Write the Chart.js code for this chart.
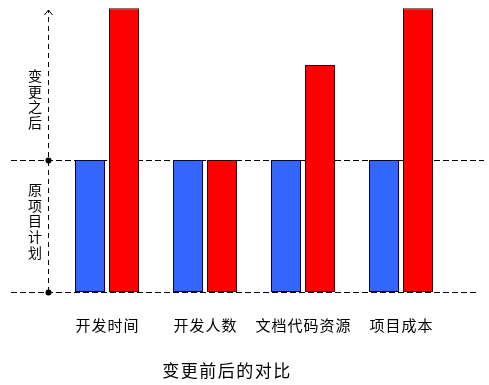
<!DOCTYPE html>
<html>
<head>
<meta charset="utf-8">
<script src="https://cdn.jsdelivr.net/npm/chart.js@4"></script>
<style>
  html, body { margin: 0; padding: 0; background: #fff; }
  #wrap { width: 489px; height: 385px; position: relative; }
</style>
</head>
<body>
<div id="wrap"><canvas id="chart"></canvas></div>
<script>
const categories = ['开发时间', '开发人数', '文档代码资源', '项目成本'];
const planValues = [100, 100, 100, 100];     // 原项目计划
const changedValues = [215, 100, 172, 215];  // 变更之后
const levelLabels = ['原项目计划', '变更之后'];
const chartTitle = '变更前后的对比';

const FONT = '"Noto Sans CJK SC", "Noto Sans", sans-serif';

// dashed reference lines, arrow axis, dots and all the text
const decor = {
  id: 'decor',
  beforeDatasetsDraw(chart) {
    const { ctx, scales: { x, y } } = chart;
    const axisX = 48;
    const yBase = y.getPixelForValue(0);
    const yPlan = y.getPixelForValue(100);
    ctx.save();
    ctx.strokeStyle = '#000';
    ctx.lineWidth = 1;
    ctx.setLineDash([6, 3]);
    ctx.beginPath();
    ctx.moveTo(11, Math.round(yPlan) + 0.5);
    ctx.lineTo(484, Math.round(yPlan) + 0.5);
    ctx.moveTo(11, Math.round(yBase) + 0.5);
    ctx.lineTo(476, Math.round(yBase) + 0.5);
    ctx.stroke();
    ctx.setLineDash([5, 4]);
    ctx.beginPath();
    ctx.moveTo(axisX + 0.5, yBase);
    ctx.lineTo(axisX + 0.5, 10);
    ctx.stroke();
    ctx.setLineDash([]);
    ctx.beginPath();
    ctx.moveTo(axisX + 0.5 - 4, 15);
    ctx.lineTo(axisX + 0.5, 10);
    ctx.lineTo(axisX + 0.5 + 4, 15);
    ctx.stroke();
    ctx.fillStyle = '#000';
    [yPlan, yBase].forEach(py => {
      ctx.beginPath();
      ctx.arc(axisX + 0.5, Math.round(py) + 0.5, 3, 0, Math.PI * 2);
      ctx.fill();
    });
    ctx.restore();
  },
  afterDraw(chart) {
    const { ctx, scales: { x } } = chart;
    ctx.save();
    ctx.fillStyle = '#000';
    ctx.textAlign = 'center';
    ctx.textBaseline = 'middle';
    ctx.font = '15px ' + FONT;
    ctx.letterSpacing = '1px';
    categories.forEach((c, i) => {
      ctx.fillText(c, x.getPixelForTick(i) + 0.5, 325);
    });
    ctx.letterSpacing = '0px';
    // vertical level labels
    ctx.font = '14px ' + FONT;
    const drawVert = (text, cy) => {
      const step = 15.6;
      const y0 = cy - (text.length - 1) * step / 2;
      [...text].forEach((ch, k) => ctx.fillText(ch, 35, y0 + k * step));
    };
    drawVert(levelLabels[1], 99);
    drawVert(levelLabels[0], 221);
    ctx.font = '17px ' + FONT;
    ctx.letterSpacing = '1.5px';
    ctx.fillText(chartTitle, 227, 371);
    ctx.restore();
  }
};

new Chart(document.getElementById('chart'), {
  type: 'bar',
  data: {
    labels: categories,
    datasets: [
      {
        label: levelLabels[0],
        data: planValues,
        backgroundColor: '#3366ff',
        borderColor: '#000033',
        borderWidth: 1,
        borderSkipped: false,
      },
      {
        label: levelLabels[1],
        data: changedValues,
        backgroundColor: '#ff0000',
        borderColor: '#330000',
        borderWidth: 1,
        borderSkipped: false,
      }
    ]
  },
  options: {
    responsive: true,
    maintainAspectRatio: false,
    animation: false,
    events: [],
    categoryPercentage: 68 / 98,
    barPercentage: 30 / 34,
    layout: { padding: { left: 58, right: 39, top: 1.6, bottom: 93 } },
    plugins: { legend: { display: false }, tooltip: { enabled: false } },
    scales: {
      x: { display: false, offset: true },
      y: { display: false, min: 0, max: 220 }
    }
  },
  plugins: [decor]
});
</script>
</body>
</html>
